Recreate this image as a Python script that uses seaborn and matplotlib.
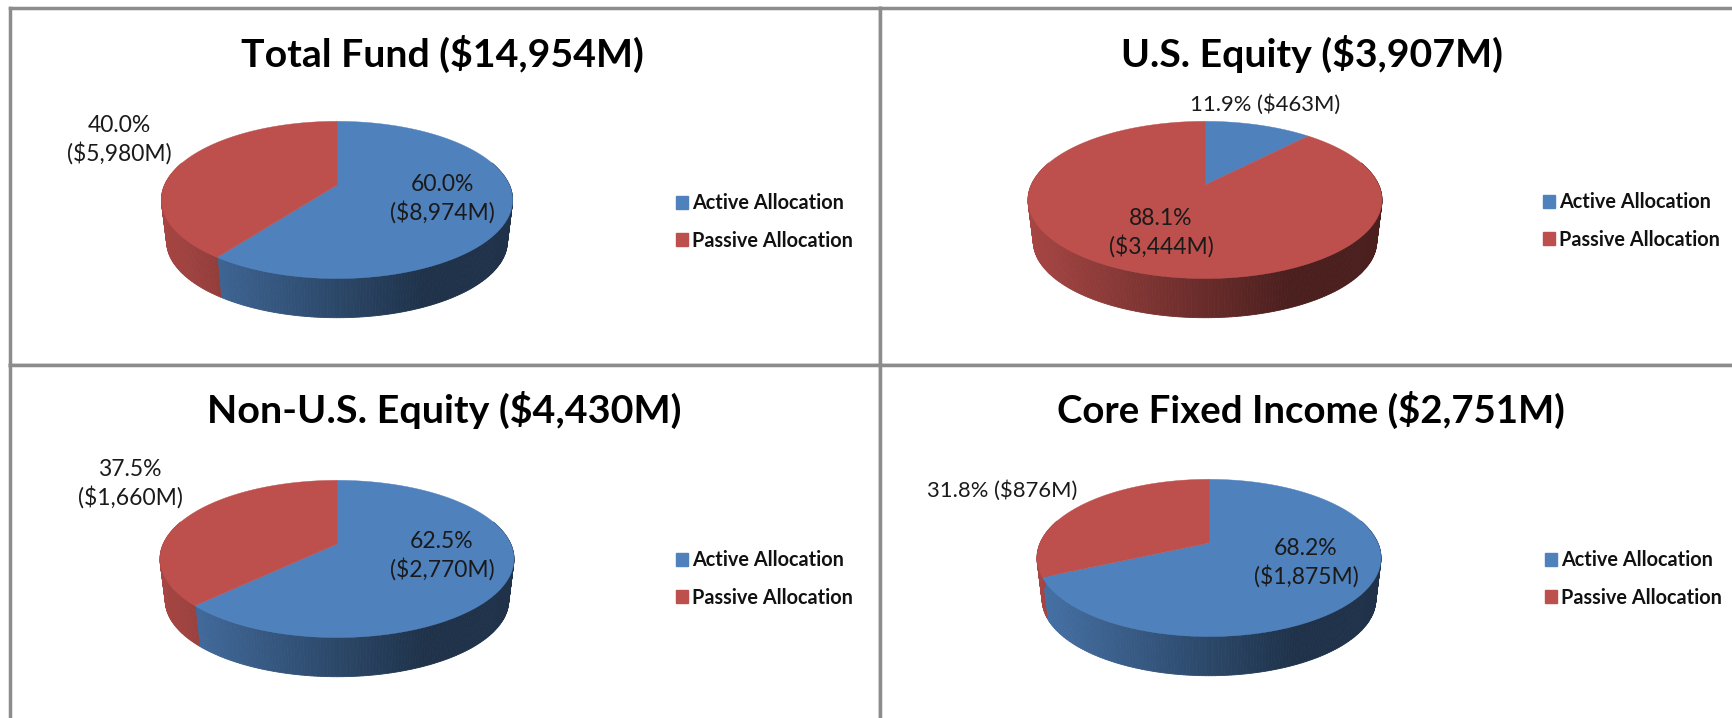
# Active / passive allocation, four 3D style pies
import numpy as np
import matplotlib
matplotlib.use("Agg")
import matplotlib.pyplot as plt
from matplotlib.patches import Patch
import seaborn as sns

# data
titles = ["Total Fund ($14,954M)", "U.S. Equity ($3,907M)",
          "Non-U.S. Equity ($4,430M)", "Core Fixed Income ($2,751M)"]
series_names = ["Active Allocation", "Passive Allocation"]
active = [8974, 463, 2770, 1875]
passive = [5980, 3444, 1660, 876]
active_labels = ["60.0%\n($8,974M)", "11.9% ($463M)", "62.5%\n($2,770M)", "68.2%\n($1,875M)"]
passive_labels = ["40.0%\n($5,980M)", "88.1%\n($3,444M)", "37.5%\n($1,660M)", "31.8% ($876M)"]

# layout, all in pixels of the 1733x718 picture
W, H = 1733, 718
panels = [(10, 8, 880, 365), (880, 8, 1740, 365), (10, 365, 880, 725), (880, 365, 1740, 725)]
centers = [(337, 185, 175.6), (1205, 185, 177), (337, 544, 177), (1209, 543, 172)]
title_pos = [(442, 54), (1312, 54), (444, 410), (1311, 410)]
title_size = [28.3, 28.3, 28.4, 27.6]
active_pos = [(442, 199), (1265, 105), (442, 556), (1306, 563)]
passive_pos = [(119, 140), (1161, 233), (130, 484), (1002, 491)]
legend_pos = [(676, 222), (1543, 221), (676, 579), (1545, 579)]

sns.set_theme(style="white")
plt.rcParams["font.family"] = ["Lato", "DejaVu Sans"]
colors = sns.color_palette(["#4f81bd", "#bd4f4c"])
grey = "#8c8c8c"

PERSP = 0.19
RY = 78.6
DEPTH = 42
BOTTOM = 0.97


def project(frac, cx, apex, rx):
    # frac is the clockwise share from 12 o'clock, the far side of the disk is smaller
    t = 2 * np.pi * np.asarray(frac)
    x, y = np.sin(t), np.cos(t)
    d = 1 + PERSP * y
    sx = rx * np.sqrt(1 - PERSP ** 2)
    sy = RY * (1 - PERSP ** 2)
    return x / d * sx, -y / d * sy


def shade(color, pos):
    # wall gets darker from left to right, flat from about 3/4 of the width
    f = np.interp(pos, [-1, 0.5], [0.88, 0.39])
    return tuple(c * f for c in color)


fig = plt.figure(figsize=(W / 100, H / 100), dpi=100, facecolor="white")

for i in range(4):
    x0, y0, x1, y1 = panels[i]
    ax = fig.add_axes([x0 / W, 1 - y1 / H, (x1 - x0) / W, (y1 - y0) / H])
    ax.set_xlim(x0, x1)
    ax.set_ylim(y1, y0)
    ax.set_xticks([])
    ax.set_yticks([])
    for s in ax.spines.values():
        s.set_color(grey)
        s.set_linewidth(2.5)

    cx, apex, rx = centers[i]
    share = active[i] / (active[i] + passive[i])

    # side wall, small strips from the right round the front to the left
    edges = np.linspace(0.2, 0.8, 241)
    for a, b in zip(edges[:-1], edges[1:]):
        px, py = project([a, b], cx, apex, rx)
        xs = [cx + px[0], cx + px[1], cx + BOTTOM * px[1], cx + BOTTOM * px[0]]
        ys = [apex + py[0], apex + py[1], apex + DEPTH + BOTTOM * py[1], apex + DEPTH + BOTTOM * py[0]]
        base = colors[0] if (a + b) / 2 < share else colors[1]
        c = shade(base, px.mean() / rx)
        ax.fill(xs, ys, color=c, lw=0.6, zorder=2)

    # top face
    for start, stop, base in [(0, share, colors[0]), (share, 1, colors[1])]:
        fr = np.linspace(start, stop, 200)
        px, py = project(fr, cx, apex, rx)
        ax.fill(np.r_[cx, cx + px], np.r_[apex, apex + py], color=base, lw=0.3, zorder=3)

    ax.text(*title_pos[i], titles[i], ha="center", va="center", fontsize=title_size[i],
            fontweight="bold", color="black")
    for pos, lab in [(active_pos[i], active_labels[i]), (passive_pos[i], passive_labels[i])]:
        # the one line labels are set a bit smaller in the original
        size = 16.5 if "\n" in lab else 15.8
        ax.text(*pos, lab, ha="center", va="center", fontsize=size, color="#1a1a1a",
                linespacing=1.32, zorder=5)

    handles = [Patch(color=colors[0], label=series_names[0]), Patch(color=colors[1], label=series_names[1])]
    ax.legend(handles=handles, loc="center left", bbox_to_anchor=legend_pos[i],
              bbox_transform=ax.transData, frameon=False, borderpad=0, borderaxespad=0,
              handlelength=0.58, handleheight=0.58, handletextpad=0.22, labelspacing=0.86,
              prop={"size": 14.3, "weight": "bold"}, labelcolor="#111111")

fig.savefig("out.png", dpi=100)
